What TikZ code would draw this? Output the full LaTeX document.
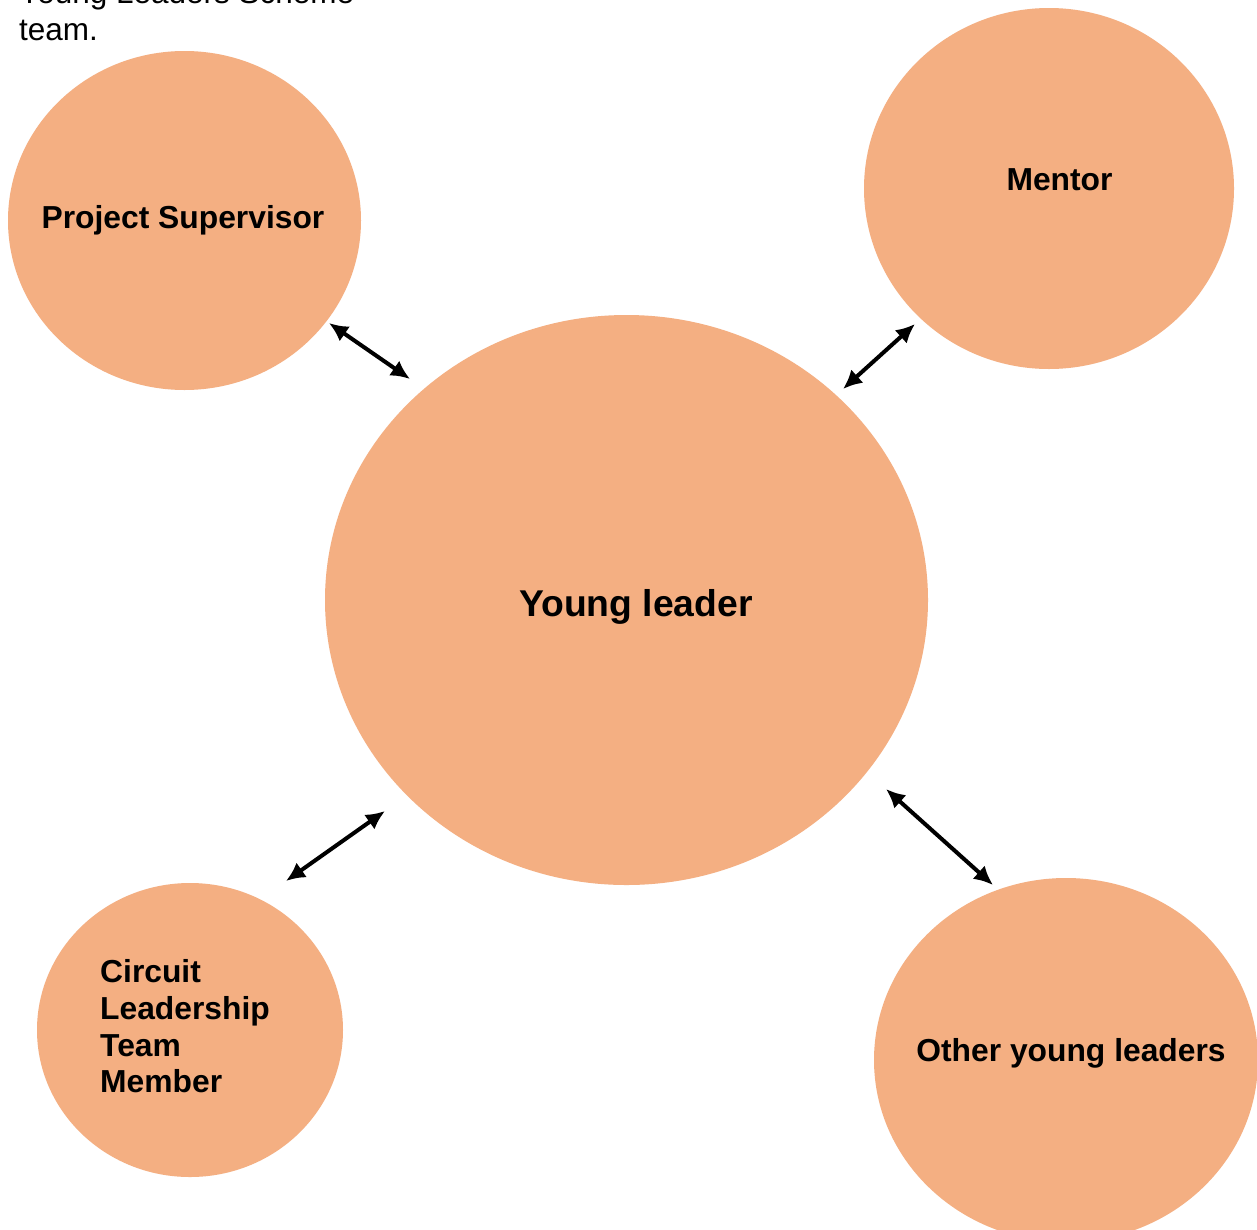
\documentclass[tikz,border=0pt]{standalone}
\usepackage{fontspec}
\setmainfont{Liberation Sans}
\usetikzlibrary{arrows.meta}
\definecolor{bubble}{HTML}{F4AF82}
\begin{document}
\begin{tikzpicture}[x=1pt,y=-1pt,
  bubble/.style={fill=bubble,draw=none},
  lbl/.style={font=\fontsize{31.8}{36.7}\selectfont\bfseries,inner sep=0pt,anchor=base},
  link/.style={line width=4pt,{Latex[length=19pt,width=18pt]}-{Latex[length=19pt,width=18pt]}}]
  \clip (0,0) rectangle (1257,1229);
  \fill[white] (0,0) rectangle (1257,1229);

  % heading text running into the top edge
  \node[font=\fontsize{31.5}{36.7}\selectfont,inner sep=0pt,anchor=base west,align=left] (head) at (19,3.5) {Young Leaders Scheme};
  \node[font=\fontsize{31.5}{36.7}\selectfont,inner sep=0pt,anchor=base west] (head2) at (19,40.2) {team.};

  % bubbles
  \fill[bubble] (184.5,220.5) ellipse [x radius=176.5, y radius=169.5];
  \fill[bubble] (1049,188.5) ellipse [x radius=185, y radius=180.5];
  \fill[bubble] (626.5,600) ellipse [x radius=301.5, y radius=285];
  \fill[bubble] (190,1030) ellipse [x radius=153, y radius=147];
  \fill[bubble] (1066,1060) ellipse [x radius=192, y radius=182];

  % labels
  \node[lbl] (ps) at (183,228.5) {Project Supervisor};
  \node[lbl] (mentor) at (1059.5,190.5) {Mentor};
  \node[lbl,font=\fontsize{37.3}{40}\selectfont\bfseries] (yl) at (636,616) {Young leader};
  \node[lbl] (other) at (1071,1061) {Other young leaders};
  \node[font=\fontsize{31.8}{36.7}\selectfont\bfseries,inner sep=0pt,anchor=north west,align=left] (clt) at (100,959.5) {Circuit\\Leadership\\Team\\Member};

  % connector end points
  \coordinate (psA) at (329,323);
  \coordinate (psB) at (410,379);
  \coordinate (mA) at (915,324);
  \coordinate (mB) at (843,389);
  \coordinate (cA) at (385,811);
  \coordinate (cB) at (286,881);
  \coordinate (oA) at (886,789);
  \coordinate (oB) at (993,885);

  \draw[link] (psA) -- (psB);
  \draw[link] (mA) -- (mB);
  \draw[link] (cA) -- (cB);
  \draw[link] (oA) -- (oB);
\end{tikzpicture}
\end{document}
